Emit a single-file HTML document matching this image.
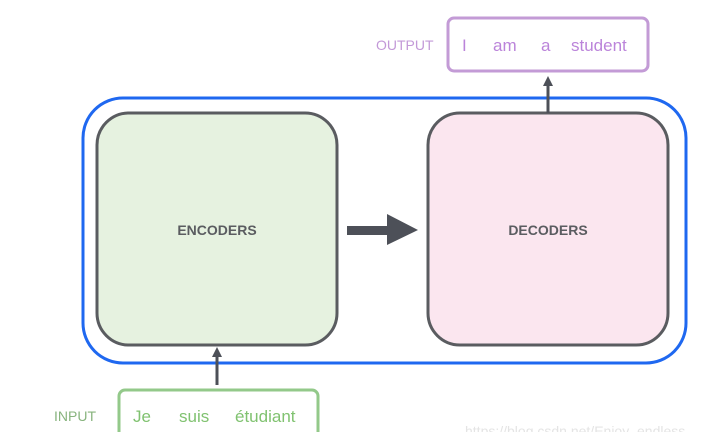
<!DOCTYPE html>
<html><head><style>
html,body{margin:0;padding:0;background:#fff;width:714px;height:432px;overflow:hidden}
text{font-family:"Liberation Sans",sans-serif}
</style></head><body>
<svg width="714" height="432" viewBox="0 0 714 432" xmlns="http://www.w3.org/2000/svg">
<rect x="83" y="98" width="603" height="265" rx="40" fill="none" stroke="#1f68f0" stroke-width="3"/>
<rect x="97" y="113" width="240" height="232" rx="32" fill="#e6f2e0" stroke="#5a5c60" stroke-width="3"/>
<rect x="428" y="113" width="240" height="232" rx="32" fill="#fbe6ef" stroke="#5a5c60" stroke-width="3"/>
<text x="217" y="235" text-anchor="middle" font-size="14" fill="#5a5c60" font-weight="bold">ENCODERS</text>
<text x="548" y="235" text-anchor="middle" font-size="14" fill="#5a5c60" font-weight="bold">DECODERS</text>
<rect x="347" y="226" width="42" height="9" fill="#4d5058"/>
<polygon points="387,214 418,230 387,245" fill="#4d5058"/>
<line x1="548" y1="113" x2="548" y2="84" stroke="#4d5058" stroke-width="3"/>
<polygon points="543,86 548,76 553,86" fill="#4d5058"/>
<rect x="448" y="18" width="200" height="53" rx="6" fill="#fff" stroke="#c39bd6" stroke-width="3"/>
<text x="376" y="50" font-size="14" fill="#c399d8">OUTPUT</text>
<text x="462" y="51" font-size="17" fill="#bb84da">I</text>
<text x="493" y="51" font-size="17" fill="#bb84da">am</text>
<text x="541" y="51" font-size="17" fill="#bb84da">a</text>
<text x="571" y="51" font-size="17" fill="#bb84da">student</text>
<line x1="217" y1="385" x2="217" y2="355" stroke="#4d5058" stroke-width="3"/>
<polygon points="212,357 217,347 222,357" fill="#4d5058"/>
<rect x="119" y="390" width="199" height="60" rx="6" fill="#fff" stroke="#93c98a" stroke-width="3"/>
<text x="54" y="421" font-size="14" fill="#88b47e">INPUT</text>
<text x="133" y="422" font-size="17" fill="#80c270">Je</text>
<text x="179" y="422" font-size="17" fill="#80c270">suis</text>
<text x="235" y="422" font-size="17" fill="#80c270">étudiant</text>
<text x="465" y="436" font-size="14" fill="#e4e4e4">https://blog.csdn.net/Enjoy_endless</text>
</svg>
</body></html>
